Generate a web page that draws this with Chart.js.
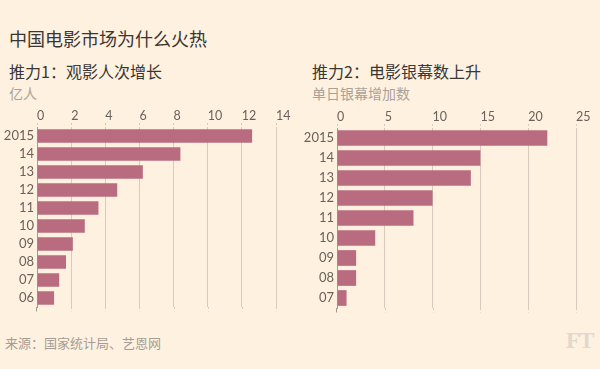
<!DOCTYPE html>
<html lang="zh">
<head>
<meta charset="utf-8">
<title>中国电影市场为什么火热</title>
<script src="https://cdn.jsdelivr.net/npm/chart.js@4/dist/chart.umd.min.js"></script>
<style>
  body { margin: 0; background: #fff1e0; }
  .page { position: relative; width: 600px; height: 369px; background: #fff1e0; overflow: hidden;
          font-family: "Noto Sans CJK SC", "Noto Sans", sans-serif; }
  .txt { position: absolute; white-space: nowrap; }
  .titre { left: 9px; top: 28px; font-size: 18px; line-height: 20px; color: #3a3632; }
  .sous { top: 61px; font-size: 16px; line-height: 20px; color: #3a3632; }
  .unite { top: 85px; font-size: 14px; line-height: 16px; color: #aaa299; }
  .source { left: 5px; top: 335px; font-size: 13px; line-height: 16px; color: #a59d94; }
  .ft { left: 566px; top: 328px; font-family: "Liberation Serif", serif; font-weight: bold;
        font-size: 23px; line-height: 26px; color: #e2d8cc; letter-spacing: -1px; }
  canvas { position: absolute; top: 100px; }
</style>
</head>
<body>
<div class="page">
  <div class="txt titre">中国电影市场为什么火热</div>
  <div class="txt sous" style="left:9px">推力1：观影人次增长</div>
  <div class="txt unite" style="left:9px">亿人</div>
  <div class="txt sous" style="left:312px">推力2：电影银幕数上升</div>
  <div class="txt unite" style="left:312px">单日银幕增加数</div>
  <div class="txt source">来源：国家统计局、艺恩网</div>
  <div class="txt ft">FT</div>
  <canvas id="gauche" width="300" height="220" style="left:0"></canvas>
  <canvas id="droite" width="300" height="220" style="left:300px"></canvas>
</div>

<script>
// --- Données ---
const anneesEntrees = ['2015', '14', '13', '12', '11', '10', '09', '08', '07', '06'];
const entrees = [12.6, 8.4, 6.2, 4.7, 3.6, 2.8, 2.1, 1.7, 1.3, 1.0];   // 亿人
const ticksEntrees = [0, 2, 4, 6, 8, 10, 12, 14];

const anneesEcrans = ['2015', '14', '13', '12', '11', '10', '09', '08', '07'];
const ecrans = [22, 15, 14, 10, 8, 4, 2, 2, 1];   // 单日银幕增加数
const ticksEcrans = [0, 5, 10, 15, 20, 25];

const couleurBarre = '#b96c80';
const couleurGrille = '#d6cbbd';
const couleurAxe = '#a39a90';
const couleurTexte = '#69625b';

// prolonge les lignes de grille et l'axe un peu sous la dernière barre
const prolongeGrille = {
  id: 'prolongeGrille',
  afterDraw(chart, args, opts) {
    const { ctx, chartArea, scales } = chart;
    const bas = chartArea.bottom + opts.extra;
    ctx.save();
    ctx.lineWidth = 1;
    ctx.strokeStyle = couleurGrille;
    ctx.setLineDash([2, 2]);
    scales.x.ticks.forEach((t, i) => {
      if (i === 0) return;
      const x = Math.round(scales.x.getPixelForTick(i)) + 0.5;
      ctx.beginPath();
      ctx.moveTo(x, chartArea.bottom);
      ctx.lineTo(x, bas);
      ctx.stroke();
    });
    ctx.setLineDash([]);
    ctx.strokeStyle = couleurAxe;
    const x0 = Math.round(chartArea.left) - 0.5;
    ctx.beginPath();
    ctx.moveTo(x0, chartArea.bottom);
    ctx.lineTo(x0, bas);
    ctx.stroke();
    ctx.restore();
  }
};

function creerGraphique(id, labels, valeurs, ticks, haut, basPadding, pct) {
  new Chart(document.getElementById(id), {
    type: 'bar',
    data: {
      labels: labels,
      datasets: [{
        data: valeurs,
        backgroundColor: couleurBarre,
        categoryPercentage: 1,
        barPercentage: pct
      }]
    },
    plugins: [prolongeGrille],
    options: {
      indexAxis: 'y',
      responsive: false,
      animation: false,
      layout: { padding: { left: 0, right: 24, top: 0, bottom: basPadding } },
      plugins: {
        legend: { display: false },
        tooltip: { enabled: false },
        prolongeGrille: { extra: 4.5 }
      },
      scales: {
        x: {
          position: 'top',
          min: 0,
          max: ticks[ticks.length - 1],
          afterBuildTicks: (axe) => { axe.ticks = ticks.map(v => ({ value: v })); },
          afterFit: (axe) => { axe.height = haut; },
          border: { display: false },
          grid: {
            color: couleurGrille,
            borderDash: [2, 2],
            tickBorderDash: [2, 2],
            tickColor: couleurGrille,
            tickLength: 4,
            lineWidth: 1
          },
          ticks: {
            align: 'start',
            padding: 0,
            color: couleurTexte,
            font: { family: 'Lato', size: 12.5 }
          }
        },
        y: {
          afterFit: (axe) => { axe.width = 37; },
          border: { display: true, color: couleurAxe, width: 1 },
          grid: { display: false, drawTicks: false },
          ticks: {
            autoSkip: false,
            padding: 3,
            color: couleurTexte,
            font: { family: 'Lato', size: 13 }
          }
        }
      }
    }
  });
}

creerGraphique('gauche', anneesEntrees, entrees, ticksEntrees, 27, 13, 0.75);
creerGraphique('droite', anneesEcrans, ecrans, ticksEcrans, 28, 12, 0.785);
</script>
</body>
</html>
